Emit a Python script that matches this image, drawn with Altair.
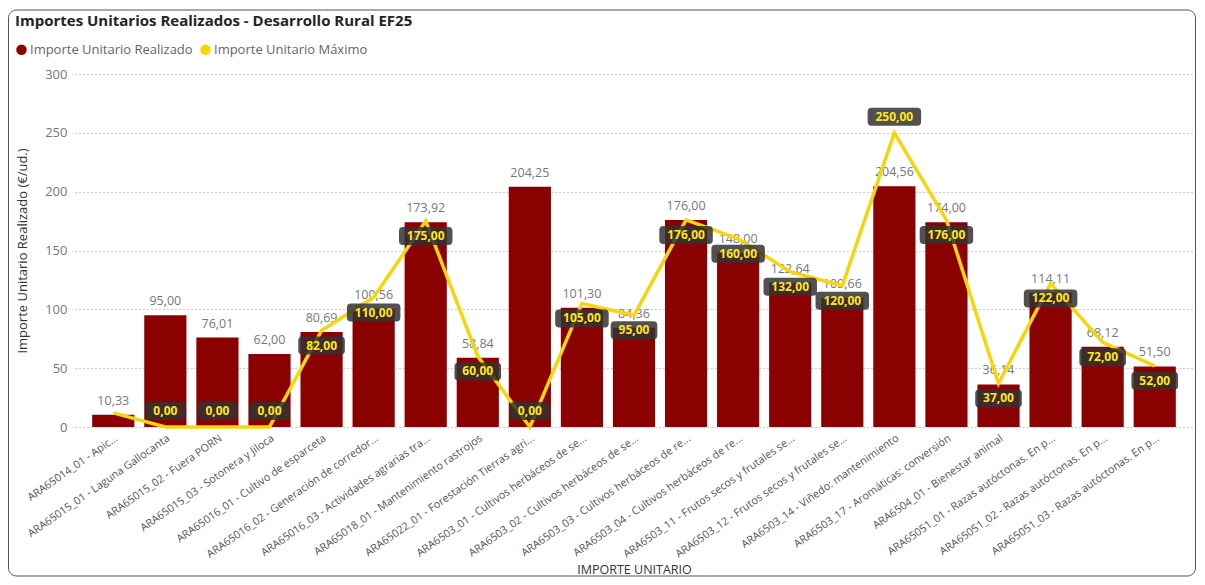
import altair as alt
import pandas as pd

categorias = [
    "ARA65014_01 - Apic...",
    "ARA65015_01 - Laguna Gallocanta",
    "ARA65015_02 - Fuera PORN",
    "ARA65015_03 - Sotonera y Jiloca",
    "ARA65016_01 - Cultivo de esparceta",
    "ARA65016_02 - Generación de corredor...",
    "ARA65016_03 - Actividades agrarias tra...",
    "ARA65018_01 - Mantenimiento rastrojos",
    "ARA65022_01 - Forestación Tierras agri...",
    "ARA6503_01 - Cultivos herbáceos de se...",
    "ARA6503_02 - Cultivos herbáceos de se...",
    "ARA6503_03 - Cultivos herbáceos de re...",
    "ARA6503_04 - Cultivos herbáceos de re...",
    "ARA6503_11 - Frutos secos y frutales se...",
    "ARA6503_12 - Frutos secos y frutales se...",
    "ARA6503_14 - Viñedo: mantenimiento",
    "ARA6503_17 - Aromáticas: conversión",
    "ARA6504_01 - Bienestar animal",
    "ARA65051_01 - Razas autóctonas. En p...",
    "ARA65051_02 - Razas autóctonas. En p...",
    "ARA65051_03 - Razas autóctonas. En p...",
]
realizado = [10.33, 95.00, 76.01, 62.00, 80.69, 100.56, 173.92, 58.84, 204.25, 101.30,
             84.36, 176.00, 148.00, 122.64, 109.66, 204.56, 174.00, 36.14, 114.11, 68.12, 51.50]
maximo = [12.00, 0.00, 0.00, 0.00, 82.00, 110.00, 175.00, 60.00, 0.00, 105.00,
          95.00, 176.00, 160.00, 132.00, 120.00, 250.00, 176.00, 37.00, 122.00, 72.00, 52.00]
y_ticks = [0, 50, 100, 150, 200, 250, 300]
series = ["Importe Unitario Realizado", "Importe Unitario Máximo"]

df = pd.DataFrame({"cat": categorias, "real": realizado, "max": maximo})

FONT = "Open Sans"
RED = "#8B0000"
YEL = "#F5D60A"
W, H = 1118, 353

base = alt.Chart(df).encode(
    x=alt.X("cat:N", sort=None, title="IMPORTE UNITARIO",
            scale=alt.Scale(paddingInner=0.19, paddingOuter=0.33),
            axis=alt.Axis(labelAngle=-35, labelFontSize=10.8, labelColor="#555",
                          labelLimit=400, labelPadding=5, ticks=False, domain=False,
                          grid=False, titleY=142, titleBaseline="middle",
                          titleFontSize=12.5, titleFontWeight="normal",
                          titleColor="#333")),
)

bars = base.mark_bar(color=RED).encode(
    y=alt.Y("real:Q", title="Importe Unitario Realizado (€/ud.)",
            scale=alt.Scale(domain=[0, 300], nice=False),
            axis=alt.Axis(values=y_ticks, labelColor="#777", labelFontSize=13,
                          labelPadding=8, ticks=False, domain=False,
                          gridColor="#d98080", gridDash=[1, 3], gridWidth=1,
                          titleX=-53, titleY=H / 2, titleAngle=270,
                          titleAlign="center", titleBaseline="middle",
                          titleFontSize=13, titleFontWeight="normal",
                          titleColor="#333")),
    color=alt.Color("s:N", scale=alt.Scale(domain=series, range=[RED, YEL]),
                    legend=alt.Legend(title=None, orient="none", legendX=-60,
                                      legendY=-31, direction="horizontal",
                                      symbolType="circle", symbolSize=110,
                                      labelFontSize=13, labelColor="#666",
                                      labelFont=FONT, labelLimit=400,
                                      columnPadding=6, symbolOffset=0,
                                      labelOffset=2)),
).transform_calculate(s="'Importe Unitario Realizado'")

bar_text = base.mark_text(font=FONT, fontSize=12.5, color="#777", dy=-10,
                          baseline="alphabetic").encode(
    y="real:Q", text="lbl:N"
).transform_calculate(lbl="replace(format(datum.real, '.2f'), '.', ',')")

line = base.mark_line(color=YEL, strokeWidth=3.5).encode(y="max:Q")


def box_path_expr(cy):
    # rounded rectangle path (pixel units with symbol size 4), centred cy px from the point
    t, b, r = cy - 9, cy + 9, 4
    def n(v):
        return f"({v})"
    return (
        f"'M' + (-datum.hw + {r}) + ',' + {n(t)} + 'H' + (datum.hw - {r})"
        f" + 'Q' + datum.hw + ',' + {n(t)} + ' ' + datum.hw + ',' + {n(t + r)}"
        f" + 'V' + {n(b - r)} + 'Q' + datum.hw + ',' + {n(b)} + ' ' + (datum.hw - {r}) + ',' + {n(b)}"
        f" + 'H' + (-datum.hw + {r}) + 'Q' + (-datum.hw) + ',' + {n(b)} + ' ' + (-datum.hw) + ',' + {n(b - r)}"
        f" + 'V' + {n(t + r)} + 'Q' + (-datum.hw) + ',' + {n(t)} + ' ' + (-datum.hw + {r}) + ',' + {n(t)} + 'Z'"
    )


def labels(filter_expr, dy):
    src = (base.transform_filter(filter_expr)
           .transform_calculate(lbl="replace(format(datum.max, '.2f'), '.', ',')")
           .transform_calculate(hw="(length(datum.lbl) - 1) * 3.45 + 9.5")
           .transform_calculate(path=box_path_expr(dy)))
    bg = src.mark_point(filled=True, size=4, color="#333", opacity=0.85,
                        strokeWidth=0).encode(
        y="max:Q", shape=alt.Shape("path:N", scale=None))
    fg = src.mark_text(font=FONT, fontSize=12, fontWeight="bold", dy=dy,
                       baseline="middle", color="#FFE81A").encode(
        y="max:Q", text="lbl:N")
    return bg + fg


lab_above = labels("datum.max == 0 || datum.max >= 250", -16)
lab_below = labels("datum.max >= 15 && datum.max < 250", 15)

border = alt.Chart(pd.DataFrame({"k": [0]})).mark_rect(
    fillOpacity=0, stroke="#555", strokeWidth=1, cornerRadius=8
).encode(x=alt.value(-66.5), x2=alt.value(1120.5), y=alt.value(-64), y2=alt.value(502))

chart = alt.layer(bars, bar_text, line, lab_above, lab_below, border).properties(
    width=W, height=H,
    autosize=alt.AutoSizeParams(type="none"),
    padding={"left": 67, "top": 66, "right": 4, "bottom": 150},
    title=alt.TitleParams("Importes Unitarios Realizados - Desarrollo Rural EF25",
                          anchor="start", frame="group", dx=-60, offset=-19,
                          fontSize=15, fontWeight="bold", color="#252423",
                          font=FONT),
).configure_view(stroke=None).configure_axis(labelFont=FONT, titleFont=FONT)

chart.save("out.html", embed_options={"renderer": "svg", "actions": False})
